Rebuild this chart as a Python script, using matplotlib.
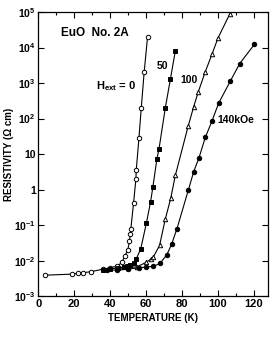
import numpy as np
import matplotlib
matplotlib.use("Agg")
import matplotlib.pyplot as plt
from matplotlib.ticker import FixedLocator, MultipleLocator

# H_ext = 0 (open circles)
T0 = [3.5, 18.5, 22, 25, 29.3, 36, 40, 44, 46.5, 48, 49.8, 50.7, 51.2, 51.5, 53, 54.3, 54.5, 56, 57.3, 58.9, 60.8]
L0 = [-2.41, -2.38, -2.36, -2.34, -2.31, -2.24, -2.2, -2.15, -2.05, -1.88, -1.7, -1.45, -1.25, -1.1, -0.38, 0.29, 0.55, 1.45, 2.3, 3.3, 4.3]
# H_ext = 50 kOe (filled squares)
T50 = [36, 40, 44.6, 47.4, 49.3, 51.1, 53, 54.5, 57, 60.2, 62.5, 63.8, 66, 67.2, 70.7, 73.5, 76.3]
L50 = [-2.26, -2.23, -2.21, -2.17, -2.15, -2.11, -2.06, -1.95, -1.67, -0.93, -0.34, 0.08, 0.86, 1.15, 2.3, 3.1, 3.91]
# H_ext = 100 kOe (open triangles)
T100 = [44, 50, 55, 60, 62.5, 64, 67.5, 70.7, 73.7, 76.3, 83.4, 86.5, 89, 93, 96.8, 100, 106.6]
L100 = [-2.22, -2.2, -2.17, -2.05, -1.96, -1.9, -1.57, -0.83, -0.25, 0.4, 1.78, 2.33, 2.74, 3.32, 3.82, 4.26, 4.94]
# H_ext = 140 kOe (filled circles)
T140 = [38, 43.7, 50, 55.8, 60, 64, 67.7, 71.6, 74.2, 77.2, 83.5, 86.5, 89.5, 93, 96.8, 100.4, 107, 112.2, 120.4]
L140 = [-2.25, -2.27, -2.24, -2.2, -2.18, -2.16, -2.08, -1.83, -1.54, -1.1, -0.02, 0.5, 0.9, 1.47, 1.94, 2.43, 3.06, 3.55, 4.09]

ytick_vals = [1e-3, 1e-2, 1e-1, 1, 10, 1e2, 1e3, 1e4, 1e5]
ytick_labels = [r"$\mathbf{10^{-3}}$", r"$\mathbf{10^{-2}}$", r"$\mathbf{10^{-1}}$", "1", "10",
                r"$\mathbf{10^{2}}$", r"$\mathbf{10^{3}}$", r"$\mathbf{10^{4}}$", r"$\mathbf{10^{5}}$"]
xtick_vals = [0, 20, 40, 60, 80, 100, 120]

plt.rcParams['font.family'] = ['Liberation Sans', 'DejaVu Sans']
plt.rcParams['mathtext.fontset'] = 'custom'
plt.rcParams['mathtext.rm'] = 'Liberation Sans'
plt.rcParams['mathtext.bf'] = 'Liberation Sans:bold'
plt.rcParams['mathtext.it'] = 'Liberation Sans:italic'

fig = plt.figure(figsize=(2.73, 3.53), dpi=100)
ax = fig.add_axes([0.141, 0.161, 0.841, 0.805])

def p(T, L):
    return np.array(T), 10 ** np.array(L)

kw = dict(color='black', lw=0.8, markersize=3.2, markeredgewidth=0.7)
t, r = p(T0, L0); ax.plot(t, r, marker='o', mfc='white', mec='black', **kw)
t, r = p(T50, L50); ax.plot(t, r, marker='s', mfc='black', mec='black', **kw)
t, r = p(T100, L100); ax.plot(t, r, marker='^', mfc='white', mec='black', **kw)
t, r = p(T140, L140); ax.plot(t, r, marker='o', mfc='black', mec='black', **kw)

ax.set_yscale('log')
ax.set_ylim(1e-3, 1e5)
ax.set_xlim(0, 128)
ax.yaxis.set_major_locator(FixedLocator(ytick_vals))
ax.yaxis.set_minor_locator(FixedLocator([]))
ax.set_yticklabels(ytick_labels, fontsize=7.5, fontweight='bold')
ax.set_xticks(xtick_vals)
ax.set_xticklabels([str(v) for v in xtick_vals], fontsize=8, fontweight='bold')
ax.xaxis.set_minor_locator(MultipleLocator(10))
ax.tick_params(axis='both', which='both', direction='in', top=True, right=True)
ax.tick_params(axis='both', which='major', length=4, width=0.8, pad=2)
ax.tick_params(axis='both', which='minor', length=2.5, width=0.8)
for s in ax.spines.values():
    s.set_linewidth(0.9)

ax.set_xlabel("TEMPERATURE (K)", fontsize=7, fontweight='bold', labelpad=3)
ax.set_ylabel("RESISTIVITY (Ω cm)", fontsize=7, fontweight='bold', labelpad=0)

ax.text(0.10, 0.915, "EuO  No. 2A", transform=ax.transAxes, fontsize=8.5, fontweight='bold')
ax.text(0.25, 0.73, r"$\mathbf{H_{ext}}$ = 0", transform=ax.transAxes, fontsize=8, fontweight='bold')
ax.text(0.515, 0.80, "50", transform=ax.transAxes, fontsize=7.5, fontweight='bold')
ax.text(0.62, 0.75, "100", transform=ax.transAxes, fontsize=7.5, fontweight='bold')
ax.text(0.78, 0.61, "140kOe", transform=ax.transAxes, fontsize=7.5, fontweight='bold')

fig.savefig("out.png", dpi=100)
